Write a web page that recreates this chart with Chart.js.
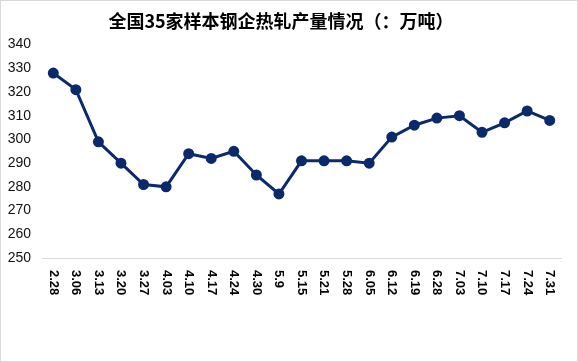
<!DOCTYPE html>
<html>
<head>
<meta charset="utf-8">
<script src="https://cdn.jsdelivr.net/npm/chart.js@4/dist/chart.umd.min.js"></script>
<style>
  html, body { margin: 0; padding: 0; background: #fff; }
  #wrap { width: 578px; height: 362px; box-sizing: border-box; border: 1px solid #d9d9d9; }
</style>
</head>
<body>
<div id="wrap"><canvas id="prodChart" width="576" height="360"></canvas></div>
<script>
const title = '全国35家样本钢企热轧产量情况（：万吨）';
const weeks = ['2.28', '3.06', '3.13', '3.20', '3.27', '4.03', '4.10', '4.17', '4.24', '4.30', '5.9',
    '5.15', '5.21', '5.28', '6.05', '6.12', '6.19', '6.28', '7.03', '7.10', '7.17', '7.24', '7.31'];
const output = [328, 321, 299, 290, 281, 280, 294, 292, 295, 285, 277,
    291, 291, 291, 290, 301, 306, 309, 310, 303, 307, 312, 308];
const yMin = 250;
const yMax = 340;
const yStep = 10;

// подписи по оси X повернуты по часовой стрелке, рисуем сами
const verticalLabels = {
    id: 'verticalLabels',
    afterDraw(chart) {
        const ctx = chart.ctx;
        const xs = chart.scales.x;
        ctx.save();
        ctx.font = 'bold 13px "Liberation Sans", Arial, sans-serif';
        ctx.fillStyle = '#000';
        ctx.textAlign = 'left';
        ctx.textBaseline = 'middle';
        weeks.forEach((w, i) => {
            ctx.save();
            ctx.translate(xs.getPixelForTick(i), 269);
            ctx.rotate(Math.PI / 2);
            ctx.fillText(w, 0, 0);
            ctx.restore();
        });
        ctx.restore();
    }
};

const ctx = document.getElementById('prodChart').getContext('2d');
new Chart(ctx, {
    type: 'line',
    data: {
        labels: weeks,
        datasets: [{
            data: output,
            borderColor: '#0a2a6b',
            backgroundColor: '#0a2a6b',
            borderWidth: 3,
            pointRadius: 4,
            pointHoverRadius: 4,
            tension: 0,
        }]
    },
    options: {
        responsive: false,
        animation: false,
        layout: { padding: { left: 0, right: 16, top: 0, bottom: 0 } },
        plugins: {
            legend: { display: false },
            tooltip: { enabled: false },
            title: {
                display: true,
                text: title,
                color: '#000',
                font: { family: '"Noto Sans CJK SC", sans-serif', size: 18, weight: 'bold', lineHeight: 1.2 },
                padding: { top: 9, bottom: 13 }
            }
        },
        scales: {
            x: {
                offset: true,
                grid: { display: false },
                border: { display: true, color: '#d9d9d9', width: 1 },
                ticks: { display: false },
                afterFit: s => { s.height = 103; }
            },
            y: {
                min: yMin,
                max: yMax,
                grid: { display: false, drawTicks: false },
                border: { display: false },
                ticks: {
                    stepSize: yStep,
                    padding: 11,
                    color: '#111',
                    font: { family: '"Liberation Sans", Arial, sans-serif', size: 14 }
                },
                afterFit: s => { s.width = 41; }
            }
        }
    },
    plugins: [verticalLabels]
});
</script>
</body>
</html>
